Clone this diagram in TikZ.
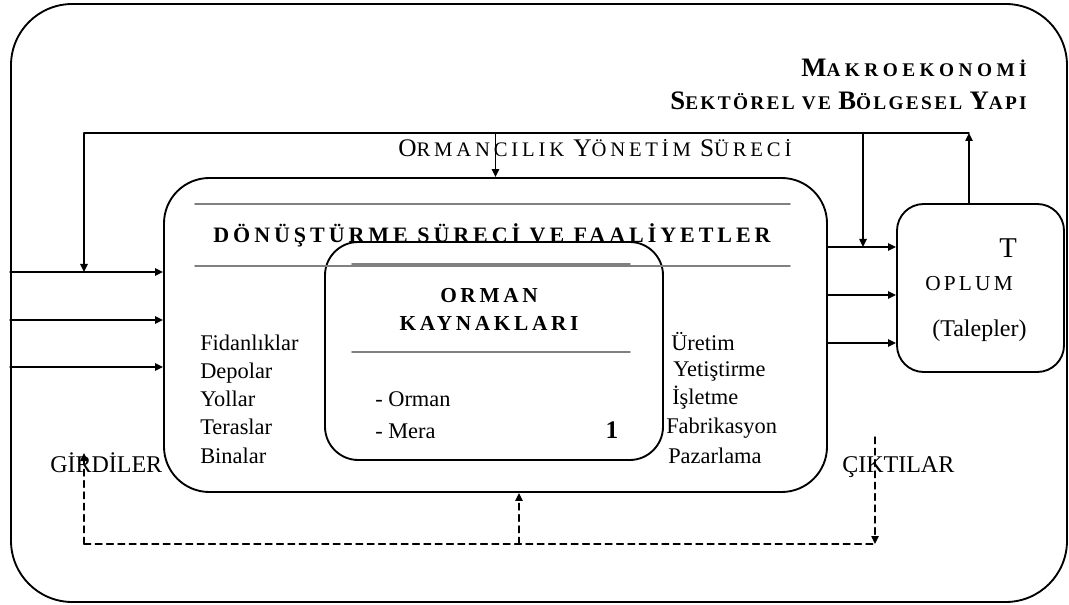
\documentclass[tikz,border=0pt]{standalone}
\usepackage{fontspec}
\setmainfont{Liberation Serif}
\usetikzlibrary{arrows.meta}
\newcommand\capA[1]{{\fontsize{20}{24}\selectfont #1}}
\newcommand\capB[1]{{\fontsize{19}{23}\selectfont #1}}
\tikzset{
  frame/.style={draw, line width=1.4pt, rounded corners=#1, inner sep=0pt},
  wire/.style={line width=1.1pt},
  flow/.style={->, line width=1.1pt},
  backwire/.style={line width=1.1pt, dash pattern=on 5pt off 3.5pt},
  rule/.style={draw=gray, line width=1.3pt},
  body/.style={font=\fontsize{16.8}{21}\selectfont, inner sep=0pt, anchor=base west},
  headbold/.style={font=\bfseries\fontsize{14.5}{18}\selectfont\addfontfeatures{LetterSpace=#1}, inner sep=0pt, anchor=base east},
  headplain/.style={font=\fontsize{15.5}{18}\selectfont\addfontfeatures{LetterSpace=18.5}, inner sep=0pt},
  spaced/.style={font=\bfseries\fontsize{16.5}{20}\selectfont\addfontfeatures{LetterSpace=18}, inner sep=0pt, anchor=base}
}
\begin{document}
\begin{tikzpicture}[line cap=round,line join=round,x=0.75pt,y=-0.75pt,>={Triangle[length=6pt,width=5.5pt]}]
\useasboundingbox (0,0) rectangle (1069,605);
% boxes
\node[frame=46pt, minimum width=792pt, minimum height=448.5pt] (outer) at (539,303) {};
\node[frame=34pt, minimum width=497.25pt, minimum height=235.5pt] (conv) at (495.5,335) {};
\node[frame=25pt, minimum width=253.5pt, minimum height=163.5pt] (res) at (494,351) {};
\node[frame=20pt, minimum width=125.25pt, minimum height=126pt] (soc) at (980.5,288) {};
% gray rules
\draw[rule] (195,204) -- (790,204);
\draw[rule] (195,266) -- (790,266);
\draw[rule] (352,264) -- (630,264);
\draw[rule] (352,352) -- (630,352);
% titles
\node[headbold=23] (macro) at (1027,77) {\capA{M}AKROEKONOMİ};
\node[headbold=12] (sector) at (1027,110) {\capA{S}EKTÖREL VE \capA{B}ÖLGESEL \capA{Y}API};
\node[headplain, anchor=base west] (mgmt) at (398,157) {\capB{O}RMANCILIK \capB{Y}ÖNETİM \capB{S}ÜRECİ};
\node[spaced] (convtitle) at (492,243) {DÖNÜŞTÜRME SÜRECİ VE FAALİYETLER};
\node[spaced, font=\bfseries\fontsize{16}{20}\selectfont\addfontfeatures{LetterSpace=17}] (restitle1) at (489,303) {ORMAN};
\node[spaced, font=\bfseries\fontsize{16}{20}\selectfont\addfontfeatures{LetterSpace=17}] (restitle2) at (489,330) {KAYNAKLARI};
% lists
\foreach \word [count=\i] in {Fidanlıklar,Depolar,Yollar,Teraslar,Binalar}
  \node[body] (asset\i) at (200,{350+28.25*(\i-1)}) {\word};
\foreach \x/\y/\word [count=\i] in {671/350/Üretim,673/377/Yetiştirme,672/404/İşletme,666/433/Fabrikasyon,668/463/Pazarlama}
  \node[body] (act\i) at (\x,\y) {\word};
\node[body] (forest) at (375,406) {- Orman};
\node[body] (pasture) at (375,438) {- Mera};
\node[body, anchor=base, font=\bfseries\fontsize{19}{22}\selectfont] (one) at (612,438) {1};
\node[body, font=\fontsize{18}{21}\selectfont] (inputs) at (50,472) {GİRDİLER};
\node[body, font=\fontsize{18}{21}\selectfont] (outputs) at (842,472) {ÇIKTILAR};
% society
\node[body, anchor=base, font=\fontsize{21.5}{24}\selectfont] (socT) at (1008,258) {T};
\node[body, font=\fontsize{16}{20}\selectfont\addfontfeatures{LetterSpace=15}] (socA) at (925,291) {OPLUM};
\node[body, font=\fontsize{18}{21}\selectfont] (socB) at (932,337) {(Talepler)};
% feedback loop on top
\coordinate (fbL) at (84,133);
\coordinate (fbR) at (969,133);
\coordinate (fbD) at (863,133);
\draw[wire] (fbL) -- (fbR);
\draw[flow] (fbL) -- (84,272);
\draw[flow] (conv.north |- fbL) -- (conv.north);
\draw[flow] (fbD) -- (863,247);
\draw[flow] (fbR |- soc.north) -- (fbR);
% inputs and outputs
\foreach \y in {272,320,367}
  \draw[flow] (outer.west |- 0,\y) -- (conv.west |- 0,\y);
\foreach \y in {247,295,343}
  \draw[flow] (conv.east |- 0,\y) -- (soc.west |- 0,\y);
% dashed loop below
\coordinate (dbL) at (84,544);
\coordinate (dbM) at (519,544);
\coordinate (dbR) at (875,544);
\coordinate (outTop) at (875,437);
\draw[backwire] (dbL) -- (dbR);
\draw[backwire,->] (dbL) -- (84,453);
\draw[backwire,->] (dbM) -- (conv.south -| dbM);
\draw[backwire,->] (outTop) -- (dbR);
\end{tikzpicture}
\end{document}
